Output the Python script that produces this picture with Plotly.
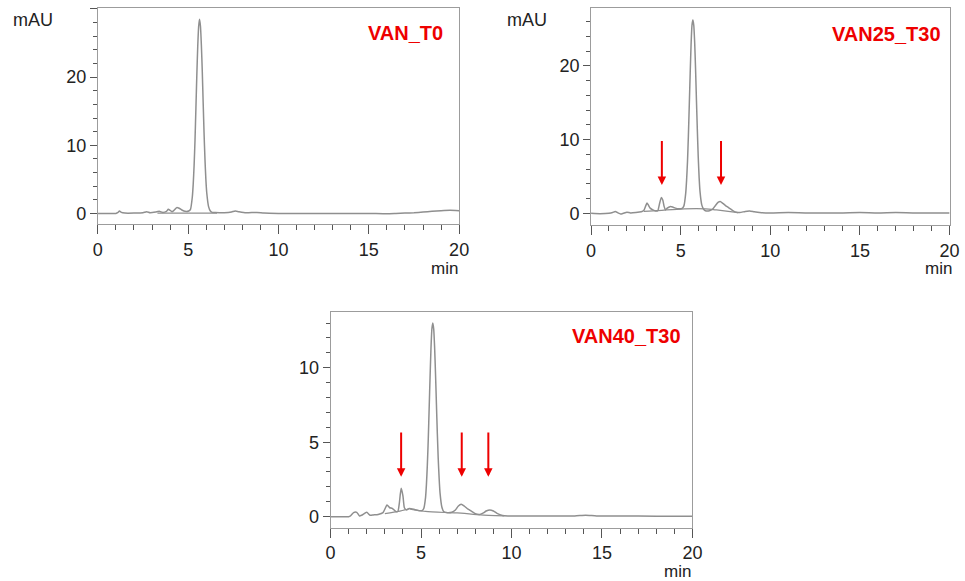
import plotly.graph_objects as go

# ---- chromatogram data (retention time in min, absorbance in mAU) ----
t0_time = [0.0, 0.5, 1.0, 1.1, 1.2, 1.3, 1.5, 2.0, 2.5, 2.7, 2.9, 3.2, 3.4, 3.6, 3.8, 3.9,
           4.0, 4.1, 4.2, 4.37, 4.5, 4.65, 4.83, 5.03, 5.13, 5.23, 5.28, 5.33, 5.38, 5.43,
           5.48, 5.53, 5.58, 5.63, 5.68, 5.73, 5.78, 5.83, 5.88, 5.93, 5.98, 6.03, 6.13,
           6.23, 6.33, 6.5, 7.0, 7.4, 7.6, 7.8, 8.2, 8.8, 9.2, 10.0, 11.0, 12.0, 13.0, 14.0,
           15.0, 16.0, 16.5, 17.0, 17.5, 18.0, 18.5, 19.0, 19.5, 20.0]
t0_signal = [0.0, 0.0, 0.0, 0.1, 0.35, 0.15, 0.05, 0.05, 0.1, 0.25, 0.1, 0.2, 0.3, 0.15, 0.3, 0.6,
             0.45, 0.25, 0.4, 0.85, 0.75, 0.5, 0.3, 0.35, 0.6, 2.4, 4.3, 7.1, 10.8, 15.5,
             20.3, 24.5, 27.4, 28.5, 27.5, 24.8, 21.0, 16.3, 11.8, 8.0, 5.0, 3.0, 1.0,
             0.35, 0.15, 0.12, 0.1, 0.2, 0.35, 0.25, 0.1, 0.15, 0.05, 0.0, 0.0, 0.0, 0.0, 0.0,
             0.0, -0.05, 0.0, 0.05, 0.1, 0.2, 0.3, 0.4, 0.45, 0.4]
t0_base_time = [3.3, 6.6]
t0_base_signal = [0.05, 0.05]

v25_time = [0.0, 0.5, 1.0, 1.2, 1.35, 1.5, 1.65, 1.8, 2.0, 2.2, 2.5, 2.8, 2.95, 3.05, 3.12,
            3.2, 3.3, 3.45, 3.6, 3.72, 3.82, 3.92, 4.0, 4.08, 4.15, 4.25, 4.4, 4.55, 4.7,
            4.9, 5.08, 5.18, 5.28, 5.33, 5.38, 5.43, 5.48, 5.53, 5.58, 5.63, 5.68, 5.73,
            5.78, 5.83, 5.88, 5.93, 5.98, 6.03, 6.08, 6.18, 6.28, 6.38, 6.48, 6.6, 6.8,
            6.95, 7.1, 7.2, 7.35, 7.5, 7.65, 7.8, 7.95, 8.1, 8.3, 8.6, 8.85, 9.1, 9.4,
            10.0, 11.0, 12.0, 13.0, 14.0, 15.0, 16.0, 17.0, 18.0, 19.0, 20.0]
v25_signal = [0.0, -0.05, 0.0, 0.1, 0.25, 0.05, -0.1, 0.0, 0.15, 0.05, 0.1, 0.2, 0.4, 1.0, 1.4,
              1.1, 0.7, 0.45, 0.3, 0.35, 1.3, 2.15, 1.8, 0.9, 0.45, 0.7, 0.9, 0.85, 0.7,
              0.6, 0.65, 1.0, 2.7, 4.5, 7.0, 10.5, 14.7, 19.0, 22.9, 25.5, 26.2, 25.5,
              23.2, 19.6, 15.3, 11.2, 7.6, 4.8, 2.9, 1.1, 0.55, 0.35, 0.3, 0.35, 0.6,
              1.1, 1.5, 1.6, 1.35, 1.05, 0.8, 0.55, 0.3, 0.15, 0.1, 0.25, 0.3, 0.2, 0.1,
              0.05, 0.1, 0.05, 0.05, 0.05, 0.1, 0.05, 0.1, 0.05, 0.05, 0.05]
v25_base_time = [2.95, 3.7, 4.2, 5.2, 6.4, 7.0, 8.2]
v25_base_signal = [0.25, 0.35, 0.45, 0.6, 0.6, 0.45, 0.1]

v40_time = [0.0, 0.5, 1.0, 1.1, 1.27, 1.45, 1.6, 1.72, 2.0, 2.18, 2.36, 2.63, 2.9, 3.12, 3.27,
            3.41, 3.6, 3.72, 3.8, 3.9, 4.0, 4.08, 4.2, 4.35, 4.6, 4.9, 5.05, 5.15, 5.25, 5.3,
            5.35, 5.4, 5.45, 5.5, 5.55, 5.6, 5.65, 5.7, 5.75, 5.8, 5.85, 5.9, 5.95, 6.0,
            6.05, 6.15, 6.25, 6.4, 6.7, 6.9, 7.05, 7.22, 7.4, 7.6, 7.8, 8.0, 8.25, 8.45,
            8.6, 8.8, 9.0, 9.2, 9.5, 9.8, 10.5, 12.0, 13.5, 14.1, 14.7, 16.0, 18.0, 20.0]
v40_signal = [0.0, 0.0, 0.0, 0.05, 0.27, 0.29, 0.05, 0.1, 0.29, 0.1, 0.12, 0.15, 0.27, 0.78, 0.6,
              0.56, 0.35, 0.35, 0.9, 1.9, 1.4, 0.6, 0.45, 0.55, 0.5, 0.4, 0.4, 0.55, 1.3, 2.2,
              3.5, 5.2, 7.3, 9.4, 11.3, 12.6, 13.0, 12.6, 11.4, 9.6, 7.6, 5.6, 3.9, 2.6,
              1.6, 0.65, 0.35, 0.28, 0.3, 0.45, 0.7, 0.83, 0.7, 0.5, 0.35, 0.2, 0.15, 0.25,
              0.38, 0.45, 0.38, 0.22, 0.08, 0.05, 0.05, 0.05, 0.05, 0.1, 0.05, 0.05, 0.03, 0.03]
v40_base1_time = [3.0, 3.75, 4.4]
v40_base1_signal = [0.2, 0.35, 0.55]
v40_base2_time = [4.4, 5.25, 6.3, 7.0, 8.3, 9.6]
v40_base2_signal = [0.5, 0.35, 0.28, 0.25, 0.12, 0.05]

# sample names and marker arrows (retention time, arrow start, arrow tip)
sample_names = ["VAN_T0", "VAN25_T30", "VAN40_T30"]
v25_arrow_time = [3.95, 7.25]
v25_arrow_start = [10.0, 10.0]
v25_arrow_tip = [3.85, 3.85]
v40_arrow_time = [3.9, 7.25, 8.72]
v40_arrow_start = [5.75, 5.75, 5.75]
v40_arrow_tip = [2.68, 2.68, 2.68]

W, H = 965, 581
FONT = "Liberation Sans, Arial, Helvetica, sans-serif"
TRACE = "#8f8f8f"
FRAME = "#9c9c9c"
TICK = "#555555"
RED = "#ee0000"


def px(x):
    return x / W


def py(y):
    return 1 - y / H


fig = go.Figure()


def add_trace(t, s, xa, ya, width=1.5):
    fig.add_trace(go.Scatter(x=t, y=s, mode="lines", xaxis=xa, yaxis=ya,
                             line=dict(color=TRACE, width=width, shape="spline", smoothing=0.5),
                             hoverinfo="skip", showlegend=False))


add_trace(t0_time, t0_signal, "x", "y")
add_trace(t0_base_time, t0_base_signal, "x", "y", 1.2)
add_trace(v25_time, v25_signal, "x2", "y2")
add_trace(v25_base_time, v25_base_signal, "x2", "y2", 1.2)
add_trace(v40_time, v40_signal, "x3", "y3")
add_trace(v40_base1_time, v40_base1_signal, "x3", "y3", 1.2)
add_trace(v40_base2_time, v40_base2_signal, "x3", "y3", 1.2)


def xaxis(domain, anchor):
    return dict(domain=domain, anchor=anchor, range=[0, 20], dtick=5, tick0=0,
                ticks="outside", ticklen=9, tickwidth=1, tickcolor=TICK,
                showline=True, linecolor=FRAME, linewidth=1, mirror=True,
                showgrid=False, zeroline=False,
                tickfont=dict(family=FONT, size=18, color="#222222"),
                minor=dict(dtick=1, tick0=0, ticks="outside", ticklen=5, tickcolor=TICK))


def yaxis(domain, anchor, rng, dtick, minor):
    return dict(domain=domain, anchor=anchor, range=rng, dtick=dtick, tick0=0,
                ticks="outside", ticklen=7, tickwidth=1, tickcolor=TICK,
                showline=True, linecolor=FRAME, linewidth=1, mirror=True,
                showgrid=False, zeroline=False,
                tickfont=dict(family=FONT, size=18, color="#222222"),
                minor=dict(dtick=minor, tick0=0, ticks="outside", ticklen=4, tickcolor=TICK))


fig.update_layout(
    width=W, height=H, margin=dict(l=0, r=0, t=0, b=0),
    paper_bgcolor="white", plot_bgcolor="white", showlegend=False,
    xaxis=xaxis([px(94.3), px(461.3)], "y"),
    yaxis=yaxis([py(224.3), py(8.3)], "x", [-1.6, 30.1], 10, 2),
    xaxis2=xaxis([px(595.3), px(959.5)], "y2"),
    yaxis2=yaxis([py(225), py(8.3)], "x2", [-1.59, 27.8], 10, 2),
    xaxis3=xaxis([px(330.7), px(698.3)], "y3"),
    yaxis3=yaxis([py(527.7), py(311.7)], "x3", [-0.74, 13.76], 5, 1),
)

ann = []


def label(text, x, y, size=17, color="#222222", bold=False, xanchor="center"):
    ann.append(dict(text=f"<b>{text}</b>" if bold else text, x=px(x), y=py(y),
                    xref="paper", yref="paper", showarrow=False,
                    xanchor=xanchor, yanchor="middle",
                    font=dict(family=FONT, size=size, color=color)))


label("mAU", 28.3, 20, 18)
label("mAU", 530, 20, 18)
label("min", 446.7, 268.5, 17)
label("min", 948.3, 268.5, 17)
label("min", 683.3, 571, 17)
label(sample_names[0], 446.7, 32.7, 20, RED, True, "right")
label(sample_names[1], 952.7, 34, 20, RED, True, "right")
label(sample_names[2], 689, 336, 20, RED, True, "right")


def arrows(times, starts, tips, xa, ya):
    for t, s, e in zip(times, starts, tips):
        ann.append(dict(x=t, y=e, ax=t, ay=s, xref=xa, yref=ya, axref=xa, ayref=ya,
                        showarrow=True, arrowhead=2, arrowsize=0.85, arrowwidth=2,
                        arrowcolor=RED, text=""))


arrows(v25_arrow_time, v25_arrow_start, v25_arrow_tip, "x2", "y2")
arrows(v40_arrow_time, v40_arrow_start, v40_arrow_tip, "x3", "y3")

fig.update_layout(annotations=ann)
fig.write_html("out.html")
